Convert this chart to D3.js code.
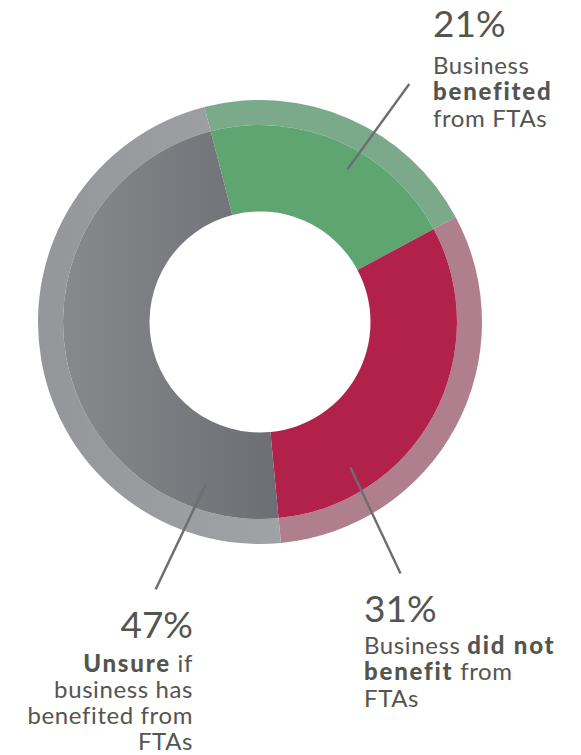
<!DOCTYPE html>
<html>
<head>
<meta charset="utf-8">
<script src="https://cdn.jsdelivr.net/npm/d3@7"></script>
<style>
  html, body { margin: 0; padding: 0; background: #fff; }
  svg { display: block; }
  text { font-family: Lato, "Open Sans", sans-serif; fill: #55554f; }
</style>
</head>
<body>
<div id="chart"></div>
<script>
// chart values
var categories = ["benefited", "did not benefit", "unsure"];
var shares = [21, 31, 47];
var pctLabels = ["21%", "31%", "47%"];
// label text, one array per line, [text, bold]
var labelLines = [
  [[["Business", false]], [["benefited", true]], [["from FTAs", false]]],
  [[["Business ", false], ["did not", true]], [["benefit", true], [" from", false]], [["FTAs", false]]],
  [[["Unsure", true], [" if", false]], [["business has", false]], [["benefited from", false]], [["FTAs", false]]]
];

// colours
var mainColor = ["#5fa572", "#b2214a", "url(#grayMain)"];
var rimColor = ["#7baa8b", "#b07f8e", "url(#grayRim)"];

// layout
var width = 581, height = 755;
var cx = 260, cy = 322;
var rHole = 110.5, rMain = 197, rRim = 222;
var startDeg = -14.5;
// leader lines: fraction inside slice, inner radius, outer radius, angle shift
var leaders = [
  { frac: 0.58, r0: 176, r1: 281, shift: 2.3 },
  { frac: 0.765, r0: 171, r1: 288, shift: 2.7 },
  { frac: 0.14, r0: 171, r1: 287, shift: 2.8 }
];
// label anchor: x, y of the percentage baseline, gap to first text line
var labelPos = [
  { x: 433, y: 37, anchor: "start", gap: 37 },
  { x: 364, y: 622, anchor: "start", gap: 32 },
  { x: 193, y: 638, anchor: "end", gap: 33.5 }
];
var pctSize = 37, textSize = 24, lineGap = 26.3;

var svg = d3.select("#chart").append("svg")
  .attr("width", width)
  .attr("height", height);

var defs = svg.append("defs");
function grad(id, c0, c1) {
  var g = defs.append("linearGradient").attr("id", id)
    .attr("x1", "0%").attr("y1", "0%").attr("x2", "100%").attr("y2", "0%");
  g.append("stop").attr("offset", "0%").attr("stop-color", c0);
  g.append("stop").attr("offset", "100%").attr("stop-color", c1);
}
grad("grayMain", "#88898d", "#6d6e73");
grad("grayRim", "#95969a", "#a1a2a6");

var g = svg.append("g")
  .attr("transform", "translate(" + cx + "," + cy + ")");

var start = startDeg * Math.PI / 180;
var pie = d3.pie()
  .value(function(d) { return d; })
  .sort(null)
  .startAngle(start)
  .endAngle(start + 2 * Math.PI);
var slices = pie(shares);

var arcMain = d3.arc().innerRadius(rHole).outerRadius(rMain);
var arcRim = d3.arc().innerRadius(rMain).outerRadius(rRim);

g.selectAll("path.rim")
  .data(slices)
  .enter()
  .append("path")
  .attr("class", "rim")
  .attr("d", arcRim)
  .attr("fill", function(d, i) { return rimColor[i]; });

g.selectAll("path.main")
  .data(slices)
  .enter()
  .append("path")
  .attr("class", "main")
  .attr("d", arcMain)
  .attr("fill", function(d, i) { return mainColor[i]; });

// leader lines
g.selectAll("line.leader")
  .data(slices)
  .enter()
  .append("line")
  .attr("class", "leader")
  .each(function(d, i) {
    var L = leaders[i];
    var a0 = d.startAngle + (d.endAngle - d.startAngle) * L.frac;
    var a1 = a0 + L.shift * Math.PI / 180;
    d3.select(this)
      .attr("x1", L.r0 * Math.sin(a0))
      .attr("y1", -L.r0 * Math.cos(a0))
      .attr("x2", L.r1 * Math.sin(a1))
      .attr("y2", -L.r1 * Math.cos(a1));
  })
  .attr("stroke", "#6d6e71")
  .attr("stroke-width", 2.4);

// labels
categories.forEach(function(c, i) {
  var p = labelPos[i];
  var lab = svg.append("g").attr("class", "label");
  lab.append("text")
    .attr("x", p.x)
    .attr("y", p.y)
    .attr("text-anchor", p.anchor)
    .style("font-size", pctSize + "px")
    .style("font-weight", 400)
    .text(pctLabels[i]);
  labelLines[i].forEach(function(line, j) {
    var t = lab.append("text")
      .attr("x", p.x)
      .attr("y", p.y + p.gap + j * lineGap)
      .attr("text-anchor", p.anchor)
      .style("font-size", textSize + "px");
    line.forEach(function(seg) {
      t.append("tspan")
        .style("font-weight", seg[1] ? 900 : 400)
        .style("letter-spacing", seg[1] ? "1.8px" : "0.6px")
        .text(seg[0]);
    });
  });
});
</script>
</body>
</html>
